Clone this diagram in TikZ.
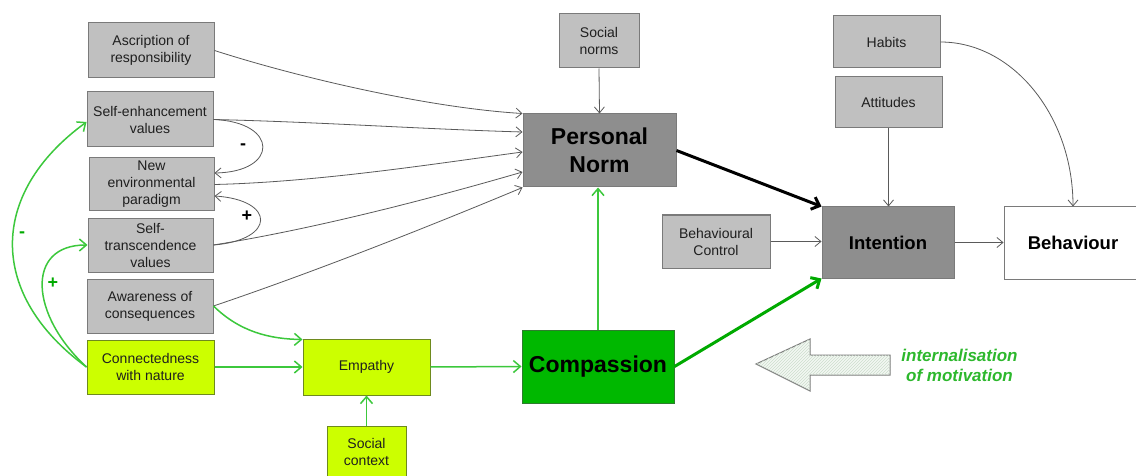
\documentclass[tikz,border=0pt]{standalone}
\usepackage{fontspec}
\setmainfont{Liberation Sans}
\usetikzlibrary{arrows.meta,patterns}
\definecolor{boxgrey}{HTML}{C0C0C0}
\definecolor{darkbox}{HTML}{8E8E8E}
\definecolor{edgegrey}{HTML}{7A7A7A}
\definecolor{ylgreen}{HTML}{CCFF00}
\definecolor{yledge}{HTML}{6E8A1E}
\definecolor{compgreen}{HTML}{00B800}
\definecolor{compedge}{HTML}{2E7D2E}
\definecolor{lgreen}{HTML}{3CC83C}
\definecolor{tgreen}{HTML}{00AA00}
\definecolor{txtgreen}{HTML}{2DB82D}
\definecolor{conngrey}{HTML}{5A5A5A}
\definecolor{hatchfill}{HTML}{F3F8F3}
\definecolor{hatchline}{HTML}{CDDECD}
\tikzset{
  box/.style={draw=edgegrey, line width=1pt, fill=boxgrey, inner sep=0pt, align=center,
    font=\fontsize{14}{17}\selectfont, text=black!88},
  darkbox/.style={box, fill=darkbox, font=\bfseries\fontsize{23}{28}\selectfont, text=black},
  midbox/.style={box, font=\bfseries\fontsize{18.5}{22}\selectfont, text=black},
  ybox/.style={box, fill=ylgreen, draw=yledge},
  conn/.style={draw=conngrey, line width=0.8pt, -{Straight Barb[length=6pt,width=10pt]}},
  gconn/.style={draw=lgreen, line width=1.5pt, -{Straight Barb[length=7pt,width=12pt]}},
  thickconn/.style={line width=3pt, -{Straight Barb[length=7pt,width=13pt]}},
  sign/.style={font=\bfseries\fontsize{18}{18}\selectfont, inner sep=0pt}
}
\begin{document}
\begin{tikzpicture}[x=1pt,y=-1pt]
\useasboundingbox (0,0) rectangle (1136,476);
\clip (0,0) rectangle (1136,476);
\fill[white] (0,0) rectangle (1136,476);

% left column
\node[box, minimum width=126pt, minimum height=55pt] (asc) at (151,50.5) {Ascription of\\responsibility};
\node[box, minimum width=126pt, minimum height=55pt] (se) at (150,119.5) {Self-enhancement\\values};
\node[box, minimum width=125pt, minimum height=53pt] (nep) at (151.5,184.5) {New\\environmental\\paradigm};
\node[box, minimum width=125pt, minimum height=54pt] (st) at (150.5,245) {Self-\\transcendence\\values};
\node[box, minimum width=126pt, minimum height=54pt] (aw) at (150,306) {Awareness of\\consequences};
\node[ybox, minimum width=127pt, minimum height=54pt] (cwn) at (150.5,367) {Connectedness\\with nature};

% middle
\node[ybox, minimum width=127pt, minimum height=56pt] (emp) at (366.5,367) {Empathy};
\node[ybox, minimum width=79pt, minimum height=51pt] (sc) at (366.5,451.5) {Social\\context};
\node[darkbox, fill=compgreen, draw=compedge, minimum width=152pt, minimum height=73pt] (comp) at (598,366.5) {Compassion};
\node[darkbox, minimum width=153pt, minimum height=73pt] (pn) at (599.5,150.5) {Personal\\Norm};
\node[box, minimum width=80pt, minimum height=54pt] (sn) at (599,41) {Social\\norms};

% right
\node[box, minimum width=107pt, minimum height=52pt] (hab) at (886.5,42) {Habits};
\node[box, minimum width=107pt, minimum height=51pt] (att) at (888.5,102.5) {Attitudes};
\node[box, minimum width=108pt, minimum height=53pt] (bc) at (716,241.5) {Behavioural\\Control};
\node[midbox, fill=darkbox, minimum width=132pt, minimum height=71pt] (int) at (888,242.5) {Intention};
\node[midbox, fill=white, minimum width=138pt, minimum height=72pt] (beh) at (1073,243) {Behaviour};

% grey connectors into Personal Norm
\draw[conn] (asc.east) .. controls (300,78) and (430,108) .. (pn.north west);
\draw[conn] (se.east) .. controls (320,122) and (420,129) .. ([yshift=18.5pt]pn.west);
\draw[conn] (nep.east) .. controls (320,182) and (440,163) .. ([yshift=-1.5pt]pn.west);
\draw[conn] (st.east) .. controls (320,228) and (440,196) .. ([yshift=-21.5pt]pn.west);
\draw[conn] (aw.east) .. controls (320,270) and (440,222) .. (pn.south west);
\draw[conn] (sn.south) -- (pn.north);

% feedback curves
\draw[conn] (se.east) .. controls (279,122) and (279,172) .. ([yshift=11.5pt]nep.east);
\draw[conn] (st.east) .. controls (276,240) and (276,200) .. ([yshift=-11.5pt]nep.east);
\node[sign] (minusA) at (243,147) {-};
\node[sign] (plusA) at (247,216) {+};

% green connectors
\draw[gconn] (cwn.west) .. controls (-12,295) and (-12,194) .. ([yshift=-2.5pt]se.west);
\draw[gconn] (cwn.west) .. controls (30,315) and (25,245) .. (st.west);
\node[sign, text=tgreen] (minusB) at (22,235) {-};
\node[sign, text=tgreen] (plusB) at (53,283) {+};
\draw[gconn] (aw.east) .. controls (240,332) and (270,339) .. ([yshift=-1pt]emp.north west);
\draw[gconn] (cwn.east) -- (emp.west);
\draw[gconn] (sc.north) -- (emp.south);
\draw[gconn] (emp.east) -- (comp.west);
\draw[gconn] (comp.north) -- (comp.north |- pn.south);
\draw[thickconn, draw=tgreen] (comp.east) -- (int.south west);
\draw[thickconn, draw=black] (pn.east) -- (int.north west);

% right connectors
\draw[conn] (att.south) -- (att.south |- int.north);
\draw[conn] (bc.east) -- (bc.east -| int.west);
\draw[conn] (int.east) -- (int.east -| beh.west);
\draw[conn] (hab.east) .. controls (1013,42) and (1073,116) .. (beh.north);

% internalisation arrow
\filldraw[draw=edgegrey, line width=1pt, fill=hatchfill,
  postaction={pattern=north east lines, pattern color=hatchline}]
  (756,364) -- (810,339) -- (810,355) -- (890,355) -- (890,375) -- (810,375) -- (810,391) -- cycle;
\node[font=\bfseries\itshape\fontsize{17}{20}\selectfont, text=txtgreen, align=center, inner sep=0pt] (intern) at (959.5,365) {internalisation\\of motivation};
\end{tikzpicture}
\end{document}
